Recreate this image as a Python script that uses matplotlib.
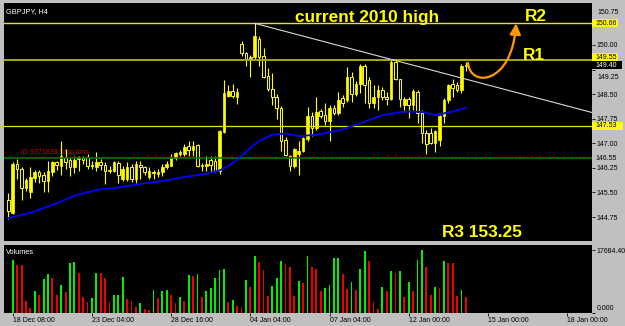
import matplotlib
matplotlib.use("Agg")
import matplotlib.pyplot as plt
import numpy as np
from matplotlib.patches import FancyArrowPatch, Rectangle
from matplotlib.path import Path
import matplotlib.transforms as mtransforms

# ---------------- data ----------------
opens = [145.27, 144.87, 146.37, 146.22, 145.64, 145.52, 145.94, 146.12, 146.02, 145.84,
         146.12, 146.42, 146.32, 146.54, 146.50, 146.27, 146.52, 146.55, 146.57, 146.34,
         146.27, 146.42, 146.34, 146.17, 146.17, 146.40, 145.92, 145.92, 146.27, 145.92,
         146.35, 146.27, 145.97, 146.14, 146.07, 146.12, 146.27, 146.32, 146.55, 146.67,
         146.67, 146.92, 146.80, 146.94, 146.30, 146.32, 146.50, 146.47, 146.17, 147.36,
         148.45, 148.60, 148.42, 150.03, 149.77, 149.55, 149.62, 150.17, 149.67, 149.05,
         148.67, 148.42, 148.07, 147.10, 146.62, 146.32, 146.68, 146.77, 147.12, 147.82,
         147.47, 147.99, 147.87, 147.67, 148.07, 147.92, 148.37, 148.32, 149.02, 148.50,
         148.82, 149.37, 148.92, 148.22, 148.42, 148.64, 148.42, 148.34, 149.47, 148.97,
         148.17, 148.34, 148.17, 148.57, 147.92, 147.32, 147.30, 147.00, 147.10, 147.82,
         148.32, 148.82, 148.77, 148.62, 149.35]
highs = [145.47, 146.42, 146.52, 146.27, 145.95, 146.27, 146.20, 146.20, 146.14, 146.47,
         146.47, 146.47, 147.07, 146.82, 146.57, 146.62, 146.62, 146.62, 146.67, 146.45,
         146.72, 146.52, 146.42, 146.32, 146.47, 146.45, 146.32, 146.42, 146.37, 146.45,
         146.45, 146.32, 146.27, 146.20, 146.22, 146.37, 146.47, 146.67, 146.75, 146.80,
         146.97, 147.07, 147.07, 146.97, 146.40, 146.62, 146.62, 146.62, 147.40, 148.92,
         148.77, 148.82, 148.70, 150.12, 149.80, 149.68, 150.66, 150.27, 149.90, 149.30,
         149.13, 148.50, 148.15, 147.20, 146.65, 146.87, 147.07, 147.20, 148.12, 147.97,
         148.42, 148.05, 148.22, 148.17, 148.17, 148.57, 148.47, 149.32, 149.17, 148.90,
         149.42, 149.42, 149.02, 148.77, 148.77, 148.72, 148.57, 149.54, 149.54, 148.97,
         148.42, 148.42, 148.67, 148.62, 148.02, 147.40, 147.47, 147.42, 147.87, 148.37,
         148.82, 148.97, 148.87, 149.42, 149.47]
lows = [144.70, 144.85, 145.92, 145.27, 145.55, 145.34, 145.82, 145.79, 145.50, 145.52,
        146.00, 146.20, 146.04, 146.22, 146.00, 146.10, 146.15, 146.37, 146.22, 146.22,
        146.17, 146.20, 145.77, 146.10, 146.12, 145.80, 145.85, 145.85, 145.82, 145.80,
        145.92, 146.02, 145.92, 145.92, 145.97, 146.00, 146.22, 146.30, 146.50, 146.60,
        146.60, 146.62, 146.62, 146.27, 146.17, 146.17, 146.12, 146.12, 146.07, 147.30,
        148.42, 148.38, 148.20, 149.67, 149.37, 149.02, 149.55, 149.37, 149.00, 148.60,
        148.17, 147.75, 146.77, 146.60, 146.17, 146.25, 146.02, 146.72, 147.07, 147.22,
        147.40, 147.77, 147.57, 147.07, 147.87, 147.87, 148.12, 148.27, 148.27, 148.45,
        148.52, 148.22, 148.07, 148.07, 148.02, 148.32, 148.17, 148.32, 148.92, 148.12,
        147.97, 147.77, 148.02, 147.62, 147.02, 146.67, 146.97, 146.72, 146.92, 147.62,
        148.22, 148.42, 148.57, 148.52, 149.22]
closes = [144.92, 146.37, 146.22, 145.64, 145.87, 145.97, 146.12, 146.00, 145.84, 146.17,
          146.42, 146.34, 146.62, 146.44, 146.27, 146.50, 146.57, 146.50, 146.32, 146.30,
          146.42, 146.34, 146.17, 146.20, 146.42, 146.02, 146.22, 146.27, 145.92, 146.37,
          146.27, 146.12, 146.17, 146.10, 146.14, 146.27, 146.37, 146.57, 146.69, 146.74,
          146.90, 146.80, 146.92, 146.32, 146.35, 146.37, 146.35, 146.17, 147.37, 148.53,
          148.60, 148.45, 148.58, 149.76, 149.57, 149.62, 150.27, 149.62, 149.02, 148.65,
          148.42, 148.07, 147.07, 146.65, 146.32, 146.82, 146.77, 147.17, 147.82, 147.47,
          147.97, 147.82, 147.67, 148.07, 147.92, 148.32, 148.22, 149.02, 148.50, 148.82,
          149.37, 148.77, 148.22, 148.42, 148.64, 148.42, 148.35, 149.47, 148.97, 148.34,
          148.34, 148.17, 148.60, 147.92, 147.32, 146.97, 147.00, 147.37, 147.82, 148.32,
          148.77, 148.70, 148.62, 149.37, 149.40]
volumes = [0, 14820, 13395, 13300, 3135, 1235, 5985, 4845, 9595, 10830,
           9785, 4845, 7885, 5795, 14060, 14155, 11210, 4370, 2945, 4085,
           11210, 11100, 9785, 2945, 4845, 5035, 10070, 3895, 3135, 1520,
           2660, 1045, 570, 6270, 4085, 5985, 6270, 5035, 2660, 4370,
           3135, 10545, 10355, 11020, 4370, 5985, 6935, 9880, 12065, 12255,
           2945, 3420, 1710, 1650, 9310, 7220, 15960, 14345, 12065, 4560,
           7410, 9785, 14630, 13680, 12920, 4560, 8835, 8265, 15960, 12920,
           12445, 5985, 7030, 7885, 15295, 15485, 10830, 6555, 8645, 6270,
           12445, 17300, 14535, 2945, 855, 7220, 5985, 11685, 11115, 11875,
           4370, 8645, 6175, 14820, 17684, 13015, 5035, 7315, 7030, 14535,
           13965, 13900, 4750, 6365, 4370]
ma_idx = [0, 5, 10, 15, 20, 25, 30, 35, 40, 45, 48, 50, 52, 55, 57, 60, 63, 66, 70,
          75, 80, 85, 90, 94, 97, 100, 104]
ma_val = [144.72, 144.88, 145.12, 145.40, 145.58, 145.65, 145.76, 145.85, 145.97, 146.07,
          146.17, 146.31, 146.49, 146.86, 147.07, 147.26, 147.30, 147.22, 147.26,
          147.39, 147.61, 147.86, 147.97, 147.96, 147.86, 147.94, 148.08]
trend_x = [56, 132.66]
trend_y = [150.66, 147.94]
r2_level = 150.66
r1_level = 149.55
s_level = 147.53
green_level = 146.55
stop_level = 146.58
last_price = 149.40
price_ticks = [150.75, 150.00, 149.25, 148.50, 147.75, 147.00, 146.25, 145.50, 144.75]
time_ticks = [1, 19, 37, 55, 73, 91, 109, 127]
time_labels = ["18 Dec 08:00", "23 Dec 04:00", "28 Dec 16:00", "04 Jan 04:00",
               "07 Jan 04:00", "12 Jan 00:00", "15 Jan 00:00", "18 Jan 00:00"]
vol_max = 17684.40

# ---------------- figure ----------------
W, H = 625, 326
FONT = "Liberation Sans"
plt.rcParams['font.family'] = [FONT, 'DejaVu Sans']
GREY = '#c0c0c0'
YEL = '#ffff00'
PX_PER_PRICE = 32.8

fig = plt.figure(figsize=(W / 100, H / 100), dpi=100, facecolor=GREY)
ax = fig.add_axes([4 / W, 1 - 241 / H, 588 / W, 238 / H], facecolor='black')
axv = fig.add_axes([4 / W, 1 - 312.5 / H, 588 / W, 68 / H], facecolor='black', sharex=ax)

for a in (ax, axv):
    for s in a.spines.values():
        s.set_visible(False)

o = np.array(opens); h = np.array(highs); l = np.array(lows); c = np.array(closes)
idx = np.arange(len(c))
up = c >= o

ax.vlines(idx, l, h, color=YEL, lw=0.8, zorder=2)
bh = np.maximum(np.abs(c - o), 0.012)
bot = np.minimum(o, c)
ax.bar(idx[up], bh[up], bottom=bot[up], width=0.62, color=YEL, edgecolor=YEL, lw=0.5, zorder=3)
ax.bar(idx[~up], bh[~up], bottom=bot[~up], width=0.62, color='black', edgecolor=YEL, lw=0.7, zorder=3)

# levels
ax.axhline(r2_level, color='#e8e800', lw=1.0, zorder=4)
ax.axhline(r1_level, color='#a8a800', lw=1.4, zorder=4)
ax.axhline(s_level, color='#e8e800', lw=0.9, zorder=4)
ax.axhline(green_level, color='#008000', lw=1.1, zorder=4)
ax.axhline(stop_level, color='#cc0000', lw=0.9, ls=(0, (3, 3)), zorder=4)

# moving average and trend line
ax.plot(ma_idx, ma_val, color='#0000ff', lw=1.3, zorder=5)
ax.plot(trend_x, trend_y, color='#d8d8d8', lw=0.8, zorder=5)

ax.text(2.8, 146.62, "ID 9371838 Stop loss", color='#d00000', fontsize=5, zorder=1,
        va='bottom', ha='left')

ax.set_xlim(-0.98, 132.66)
ax.set_ylim(144.02, 151.28)

# right price axis (labels hidden behind boxes are placed by hand just outside them)
hidden = {150.75: 'bottom', 149.25: 'top'}
ax.yaxis.tick_right()
ax.set_yticks(price_ticks)
ax.set_yticklabels(["" if t in hidden else f"{t:.2f}" for t in price_ticks])
ax.tick_params(axis='y', length=2.5, width=0.6, pad=0.8, labelsize=5, colors='black')
ax.tick_params(axis='x', bottom=False, labelbottom=False)

blend = mtransforms.blended_transform_factory(ax.transAxes, ax.transData)
box_h = 8 / PX_PER_PRICE

def price_box(p, txt, fc, tc, w_px=26, dy_px=0.0):
    pc = p - dy_px / PX_PER_PRICE
    ax.add_patch(Rectangle((1.0, pc - box_h / 2), w_px / 588, box_h, transform=blend,
                           fc=fc, ec='none', clip_on=False, zorder=10))
    ax.text(1.0 + 3.5 / 588, pc, txt, transform=blend, fontsize=5, color=tc,
            va='center', ha='left', clip_on=False, zorder=11)

for t, va in hidden.items():
    off = 4.2 if va == 'bottom' else -4.6
    ax.text(1.0 + 5.5 / 588, t + off / PX_PER_PRICE, f"{t:.2f}", transform=blend,
            fontsize=5, color='black', va=va, ha='left', clip_on=False, zorder=9)

price_box(r2_level, f"{r2_level:.2f}", YEL, 'black')
price_box(r1_level, f"{r1_level:.2f}", YEL, 'black', dy_px=-2.5)
price_box(last_price, f"{last_price:.2f}", 'black', 'white', w_px=30, dy_px=0.8)
price_box(s_level, f"{s_level:.2f}", YEL, 'black', w_px=31)
ax.text(1.0 + 3.5 / 588, green_level, f"{green_level:.2f}", transform=blend, fontsize=5,
        color='black', va='center', ha='left', clip_on=False, zorder=11)

# orange arrow
verts = [(104.5, 149.45), (104.9, 148.69), (114.5, 148.78), (115.4, 150.66)]
arrow = FancyArrowPatch(path=Path(verts, [Path.MOVETO, Path.CURVE4, Path.CURVE4, Path.CURVE4]),
                        arrowstyle='-|>,head_length=6.5,head_width=3.3', color='#ff9900',
                        lw=1.6, zorder=6, transform=ax.transData)
ax.add_patch(arrow)

# volumes
vol = np.array(volumes, dtype=float)
vcol = ['#00ee00'] + ['#00ee00' if vol[i] > vol[i - 1] else '#ee0000' for i in range(1, len(vol))]
axv.bar(idx, vol, width=0.45, color=vcol, zorder=2)
axv.set_ylim(0, vol_max * 68 / 62.5)
axv.yaxis.tick_right()
axv.set_yticks([0, vol_max])
axv.set_yticklabels(["0.000", f"{vol_max:.2f}"])
axv.tick_params(axis='y', length=2.5, width=0.6, pad=0.8, labelsize=5, colors='black')
axv.get_yticklabels()[0].set_va('bottom')
axv.set_xticks(time_ticks)
axv.set_xticklabels(time_labels)
axv.tick_params(axis='x', length=2.5, width=0.6, pad=1, labelsize=5, colors='black')
for lab in axv.get_xticklabels():
    lab.set_ha('left')

# texts
def ftext(x, y, s, **kw):
    fig.text(x / W, 1 - y / H, s, **kw)

ftext(6, 13.3, "GBPJPY, H4", color='white', fontsize=5.3, va='baseline')
ftext(6, 254.3, "Volumes", color='white', fontsize=5.3, va='baseline')
big = dict(color=YEL, fontsize=12.4, fontweight='bold', va='baseline', family=FONT)
ftext(295, 21.7, "current 2010 high", **big)
ftext(525, 20.7, "R2", **big)
ftext(523, 60, "R1", **big)
ftext(441.7, 236.7, "R3 153.25", **big)

fig.savefig("out.png", dpi=100, facecolor=GREY)
